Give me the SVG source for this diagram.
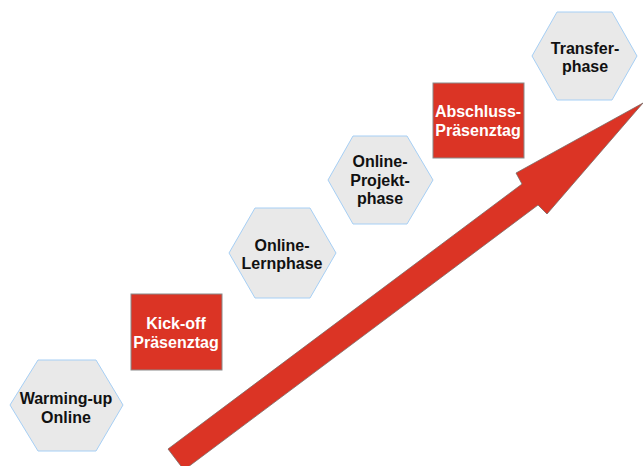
<svg xmlns="http://www.w3.org/2000/svg" width="643" height="466" viewBox="0 0 643 466">
<style>
.hex{fill:#e9e9e9;stroke:#a6cff5;stroke-width:1}
.box{fill:#db3425;stroke:#8a8a8a;stroke-width:1}
.t{font-family:"Liberation Sans",Arial,sans-serif;font-weight:bold;font-size:16px;text-anchor:middle}
.dk{fill:#111}
.wh{fill:#fff}
.arrow{fill:#db3425;stroke:#7a6a66;stroke-width:0.8}
</style>
<rect width="643" height="466" fill="#fff"/>
<g id="connectors">
<path class="arrow" d="M168,449 L522,184 L516,173 L643,103 L547,214 L538,205 L184,470 Z"/>
</g>
<g id="warming-up">
<polygon class="hex" points="10,405 38,360 96,360 123,405 96,451 38,451"/>
<text class="t dk" x="66" y="404">Warming-up</text>
<text class="t dk" x="66" y="423">Online</text>
</g>
<g id="kick-off">
<rect class="box" x="131" y="294" width="91" height="76"/>
<text class="t wh" x="176" y="329">Kick-off</text>
<text class="t wh" x="176" y="348">Präsenztag</text>
</g>
<g id="online-lernphase">
<polygon class="hex" points="229,253 255,208 310,208 336,253 310,298 255,298"/>
<text class="t dk" x="282" y="251">Online-</text>
<text class="t dk" x="282" y="269">Lernphase</text>
</g>
<g id="online-projektphase">
<polygon class="hex" points="328,180 353,136 407,136 433,180 407,224 353,224"/>
<text class="t dk" x="380" y="167">Online-</text>
<text class="t dk" x="380" y="186">Projekt-</text>
<text class="t dk" x="380" y="204">phase</text>
</g>
<g id="abschluss">
<rect class="box" x="433" y="83" width="91" height="75"/>
<text class="t wh" x="478" y="117">Abschluss-</text>
<text class="t wh" x="478" y="136">Präsenztag</text>
</g>
<g id="transferphase">
<polygon class="hex" points="532,56 557,12 612,12 637,56 612,100 557,100"/>
<text class="t dk" x="585" y="54">Transfer-</text>
<text class="t dk" x="585" y="72">phase</text>
</g>
</svg>
